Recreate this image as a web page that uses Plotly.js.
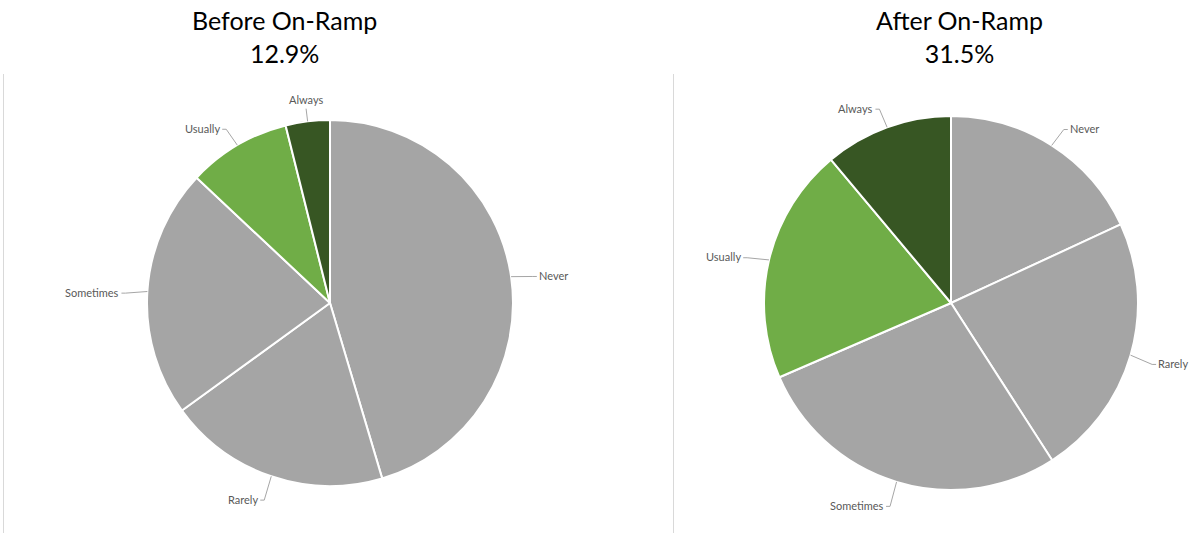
<!DOCTYPE html>
<html>
<head>
<meta charset="utf-8">
<script src="https://cdn.plot.ly/plotly-3.0.1.min.js"></script>
<style>html,body{margin:0;padding:0;background:#fff;}#chart{width:1189px;height:533px;}</style>
</head>
<body>
<div id="chart"></div>
<script>
const categories = ['Never', 'Rarely', 'Sometimes', 'Usually', 'Always'];
const beforeValues = [45.4, 19.6, 22.0, 9.1, 3.9];
const afterValues = [18.1, 22.8, 27.6, 20.4, 11.1];
const beforeTitle = 'Before On-Ramp';
const beforeShare = '12.9%';
const afterTitle = 'After On-Ramp';
const afterShare = '31.5%';
const sliceColors = ['#A5A5A5', '#A5A5A5', '#A5A5A5', '#70AD47', '#375623'];

const W = 1189, H = 533;
const px = x => x / W;
const py = y => 1 - y / H;

// pie geometry (pixels): center and radius
const pies = [
  {values: beforeValues, cx: 330, cy: 303, r: 183, title: beforeTitle, share: beforeShare, tx: 284},
  {values: afterValues, cx: 951, cy: 303, r: 187, title: afterTitle, share: afterShare, tx: 959}
];

const traces = [];
const shapes = [];
const annotations = [];
const labelFont = {family: 'Lato, "Open Sans", sans-serif', size: 11, color: '#595959'};
const lineColor = '#A6A6A6';

pies.forEach(p => {
  traces.push({
    type: 'pie',
    labels: categories,
    values: p.values,
    sort: false,
    direction: 'clockwise',
    rotation: 0,
    textinfo: 'none',
    hoverinfo: 'label+percent',
    showlegend: false,
    marker: {colors: sliceColors, line: {color: '#FFFFFF', width: 2}},
    domain: {x: [px(p.cx - p.r), px(p.cx + p.r)], y: [py(p.cy + p.r), py(p.cy - p.r)]}
  });
  annotations.push({
    xref: 'paper', yref: 'paper', x: px(p.tx), y: py(37), xanchor: 'center', yanchor: 'middle',
    text: p.title + '<br>' + p.share, showarrow: false,
    font: {family: 'Lato, "Open Sans", sans-serif', size: 25, color: '#000000'}
  });
  const total = p.values.reduce((a, b) => a + b, 0);
  let cum = 0;
  p.values.forEach((v, i) => {
    const a0 = cum / total * 2 * Math.PI;
    cum += v;
    const a1 = cum / total * 2 * Math.PI;
    const mid = (a0 + a1) / 2;
    const s = Math.sin(mid), c = Math.cos(mid);
    const x0 = p.cx + p.r * s, y0 = p.cy - p.r * c;
    if (Math.abs(s) < 0.15) {
      const x1 = p.cx + p.r * 1.07 * s, y1 = p.cy - p.r * 1.07 * c;
      shapes.push({type: 'path', xref: 'paper', yref: 'paper',
        path: `M ${px(x0)} ${py(y0)} L ${px(x1)} ${py(y1)}`,
        line: {color: lineColor, width: 1}});
      annotations.push({xref: 'paper', yref: 'paper', x: px(x1), y: py(y1 - 1),
        xanchor: 'center', yanchor: 'bottom', text: categories[i], showarrow: false, font: labelFont});
    } else {
      const x1 = p.cx + p.r * 1.12 * s, y1 = p.cy - p.r * 1.12 * c + 3;
      const dir = s > 0 ? 1 : -1;
      const x2 = x1 + dir * 4;
      shapes.push({type: 'path', xref: 'paper', yref: 'paper',
        path: `M ${px(x0)} ${py(y0)} L ${px(x1)} ${py(y1)} L ${px(x2)} ${py(y1)}`,
        line: {color: lineColor, width: 1}});
      annotations.push({xref: 'paper', yref: 'paper', x: px(x2), y: py(y1 - 1),
        xanchor: dir > 0 ? 'left' : 'right', yanchor: 'middle', text: categories[i], showarrow: false, font: labelFont});
    }
  });
});

// chart-area separator lines
[3.5, 673.5].forEach(x => {
  shapes.push({type: 'line', xref: 'paper', yref: 'paper', x0: px(x), x1: px(x), y0: py(74), y1: 0,
    line: {color: '#D9D9D9', width: 1}});
});

const layout = {
  width: W, height: H,
  margin: {l: 0, r: 0, t: 0, b: 0},
  paper_bgcolor: '#FFFFFF',
  showlegend: false,
  shapes: shapes,
  annotations: annotations
};

Plotly.newPlot('chart', traces, layout, {displayModeBar: false, staticPlot: true});
</script>
</body>
</html>
